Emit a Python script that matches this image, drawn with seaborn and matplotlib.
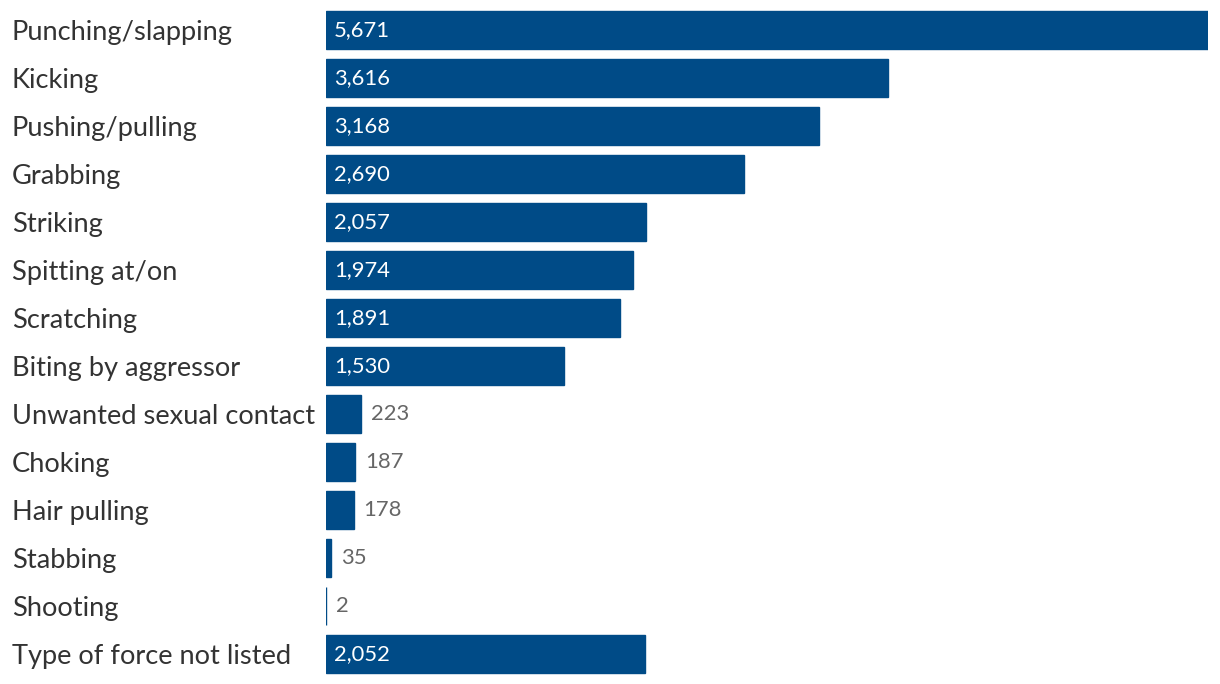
import matplotlib
matplotlib.use("Agg")
import matplotlib.pyplot as plt
import matplotlib.transforms as mtransforms
import pandas as pd
import seaborn as sns

categories = [
    "Punching/slapping", "Kicking", "Pushing/pulling", "Grabbing", "Striking",
    "Spitting at/on", "Scratching", "Biting by aggressor", "Unwanted sexual contact",
    "Choking", "Hair pulling", "Stabbing", "Shooting", "Type of force not listed",
]
counts = [5671, 3616, 3168, 2690, 2057, 1974, 1891, 1530, 223, 187, 178, 35, 2, 2052]

sns.set_theme(style="white")
plt.rcParams["font.family"] = ["Lato", "DejaVu Sans"]

df = pd.DataFrame({"type": categories, "count": counts})
bar_color = "#004B87"

fig = plt.figure(figsize=(12.2, 6.84), dpi=100)
ax = fig.add_axes([326 / 1220, 6 / 684, 882 / 1220, 672 / 684])

sns.barplot(data=df, x="count", y="type", orient="h", color=bar_color,
            saturation=1, width=0.81, edgecolor=bar_color, linewidth=1, ax=ax)

ax.set_xlim(0, max(counts))
ax.set_ylim(len(categories) - 0.5, -0.5)
ax.set_xlabel("")
ax.set_ylabel("")
ax.set_xticks([])
for s in ax.spines.values():
    s.set_visible(False)

ax.tick_params(axis="y", length=0, pad=314 / 100 * 72, labelsize=19.6, labelcolor="#333333")
for lab in ax.get_yticklabels():
    lab.set_horizontalalignment("left")

inside = mtransforms.offset_copy(ax.transData, fig=fig, x=8 / 100 * 72, y=0, units="points")
outside = mtransforms.offset_copy(ax.transData, fig=fig, x=10 / 100 * 72, y=0, units="points")
for i, v in enumerate(counts):
    if v >= 1000:
        ax.text(0, i, f"{v:,}", transform=inside, ha="left", va="center",
                color="white", fontsize=15.8)
    else:
        ax.text(v, i, f"{v:,}", transform=outside, ha="left", va="center",
                color="#666666", fontsize=15.8)

fig.savefig("out.png", dpi=100)
